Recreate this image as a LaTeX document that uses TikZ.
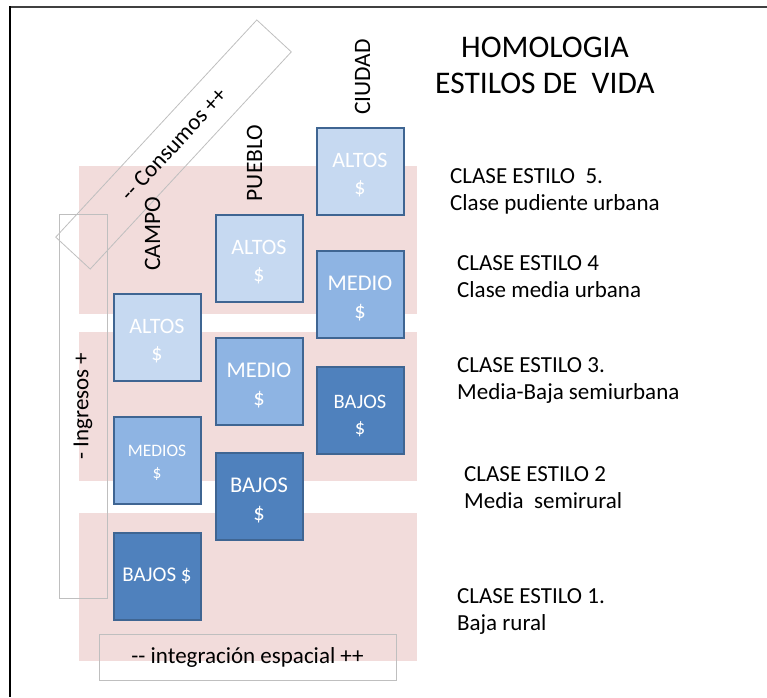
\documentclass[tikz,border=0pt]{standalone}
\usepackage{fontspec}
\setmainfont{Carlito}
\definecolor{pinkband}{HTML}{F2DCDB}
\definecolor{boxline}{HTML}{3F6592}
\definecolor{lightfill}{HTML}{C6D9F1}
\definecolor{midfill}{HTML}{8EB4E3}
\definecolor{darkfill}{HTML}{4F81BD}
\definecolor{grayline}{HTML}{BFBFBF}
\definecolor{frametop}{HTML}{404040}
\newcommand{\fs}[2]{\fontsize{#1}{#2}\selectfont}
\newcommand{\lowr}[1]{\rule{0pt}{#1}}
\tikzset{
  band/.style={fill=pinkband, draw=none},
  cell/.style={draw=boxline, line width=2pt, minimum width=87pt, minimum height=87pt,
    inner sep=0pt, align=center, text=white, font=\fs{22}{27}},
  lightcell/.style={cell, fill=lightfill},
  midcell/.style={cell, fill=midfill},
  darkcell/.style={cell, fill=darkfill},
  axisbox/.style={draw=grayline, line width=0.8pt, inner sep=0pt, font=\fs{23}{28}},
  collabel/.style={rotate=90, inner sep=0pt, font=\fs{23.5}{28}},
  classtext/.style={anchor=base west, align=left, inner sep=0pt, font=\fs{23}{27}},
}
\begin{document}
\begin{tikzpicture}[x=1pt, y=-1pt]
\useasboundingbox (0,0) rectangle (767,697);
% frame
\draw[frametop, line width=2pt] (10,7) -- (767,7);
\draw[black, line width=1.5pt] (10,6) -- (10,697);
% pink bands
\fill[band] (79,166) rectangle (417,314);
\fill[band] (79,332) rectangle (417,481);
\fill[band] (79,513) rectangle (417,661);
% axis boxes
\node[axisbox, rotate=47.2, minimum width=296pt, minimum height=47pt] (consumos) at (173.5,144.5) {{-}{-} Consumos ++};
\node[axisbox, rotate=90, minimum width=384pt, minimum height=48pt] (ingresos) at (83,406) {- Ingresos +};
\node[axisbox, minimum width=297pt, minimum height=46pt] (integ) at (247.5,657) {{-}{-} integración espacial ++};
% column labels
\node[collabel] (campo) at (152.5,234) {CAMPO};
\node[collabel] (pueblo) at (254.5,163) {PUEBLO};
\node[collabel] (ciudad) at (362.5,77) {CIUDAD};
% cells: campo
\node[lightcell] (campoA) at (157,337.5) {\lowr{22pt}ALTOS\\\$};
\node[midcell, font=\fs{17.5}{22}] (campoM) at (157,460.5) {\lowr{15pt}MEDIOS\\\$};
\node[darkcell, font=\fs{21}{26}] (campoB) at (157,576) {BAJOS \$};
% cells: pueblo
\node[lightcell] (puebloA) at (259,258) {\lowr{22pt}ALTOS\\\$};
\node[midcell, font=\fs{22.5}{28}] (puebloM) at (259,381) {\lowr{22.5pt}MEDIO\\\$};
\node[darkcell, font=\fs{22.5}{28}] (puebloB) at (259,496.5) {\lowr{22.5pt}BAJOS\\\$};
% cells: ciudad
\node[lightcell] (ciudadA) at (360,171) {\lowr{22pt}ALTOS\\\$};
\node[midcell, font=\fs{22.5}{28}] (ciudadM) at (360,294) {\lowr{22.5pt}MEDIO\\\$};
\node[darkcell, font=\fs{20.5}{26}] (ciudadB) at (360,410) {\lowr{26pt}BAJOS\\\$};
% title
\node[font=\fs{31.5}{36}, anchor=base, inner sep=0pt] (title1) at (545,57) {HOMOLOGIA};
\node[font=\fs{31.5}{36}, anchor=base, inner sep=0pt] (title2) at (545,93) {ESTILOS DE\ \ VIDA};
% class texts (anchor at baseline of second line)
\node[classtext] (c5) at (450,210) {CLASE ESTILO\ \ 5.\\Clase pudiente urbana};
\node[classtext] (c4) at (457,297) {CLASE ESTILO 4\\Clase media urbana};
\node[classtext] (c3) at (457,399) {CLASE ESTILO 3.\\Media-Baja semiurbana};
\node[classtext] (c2) at (464,508) {CLASE ESTILO 2\\Media\ \ semirural};
\node[classtext] (c1) at (457,630) {CLASE ESTILO 1.\\Baja rural};
\end{tikzpicture}
\end{document}
